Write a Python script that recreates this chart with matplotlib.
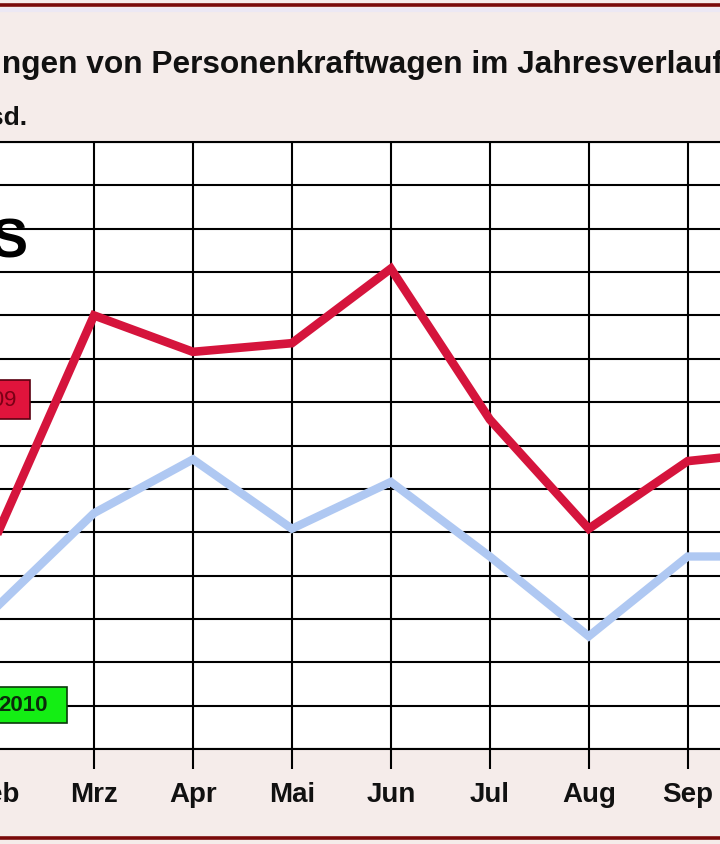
import matplotlib
matplotlib.use("Agg")
import matplotlib.pyplot as plt
from matplotlib.patches import Rectangle
from matplotlib.lines import Line2D

# ---------------- data ----------------
months = ["Jan", "Feb", "Mrz", "Apr", "Mai", "Jun", "Jul", "Aug", "Sep", "Okt", "Nov", "Dez"]
series_months = ["Feb", "Mrz", "Apr", "Mai", "Jun", "Jul", "Aug", "Sep", "Okt"]
values_2009 = [271, 400, 379, 384, 427, 340, 277, 316, 322]   # Tsd.
values_2010 = [231, 286, 317, 277, 304, 261, 215, 261, 261]   # Tsd.
y_ticks = list(range(150, 501, 25))
title = "Neuzulassungen von Personenkraftwagen im Jahresverlauf"
unit_label = "in Tsd."
label_2009 = "2009"
label_2010 = "2010"

# ---------------- styling ----------------
W, H = 720, 845
BG = "#F5ECEA"
RED = "#D5143C"
BLUE = "#AFC8F2"
FONT = "Liberation Sans"

def fx(x):
    return x / W

def fy(y):
    return 1 - y / H

fig = plt.figure(figsize=(W / 100, H / 100), dpi=100, facecolor=BG)

# axes geometry (left part of the original chart is cropped)
x_of = lambda m: 94 + (m - 3) * 98.95
L, R = x_of(0.5), x_of(12.5)
top_px, bot_px = 143, 750
ax = fig.add_axes([fx(L), fy(bot_px), fx(R) - fx(L), (bot_px - top_px) / H])
ax.set_facecolor("white")

xpos = {m: i + 1 for i, m in enumerate(months)}
xs = [xpos[m] for m in series_months]

ax.plot(xs, values_2010, color=BLUE, lw=6.0, solid_joinstyle="miter", zorder=3)
ax.plot(xs, values_2009, color=RED, lw=6.2, solid_joinstyle="miter", zorder=4)

ax.set_xlim(0.5, 12.5)
ax.set_ylim(y_ticks[0], y_ticks[-1])
ax.set_yticks(y_ticks)
ax.set_xticks(range(1, 13))
ax.set_xticklabels(months, fontsize=20, fontweight="bold", family=FONT, color="#111111")
ax.tick_params(axis="x", length=14.4, width=1.5, pad=9, color="black")
ax.tick_params(axis="y", left=False, labelleft=False)
ax.grid(True, color="black", lw=1.5)
ax.set_axisbelow(True)
for s in ["left", "right"]:
    ax.spines[s].set_visible(False)
for s in ["top", "bottom"]:
    ax.spines[s].set_color("black")
    ax.spines[s].set_linewidth(1.5)

# ---------------- title (cropped on the left) ----------------
renderer = fig.canvas.get_renderer()
tmp = fig.text(0, 0, "Neuzulassu", fontsize=22.8, fontweight="bold", family=FONT)
pre_w = tmp.get_window_extent(renderer).width
tmp.remove()
fig.text(fx(2 - pre_w), fy(73), title, fontsize=22.8, fontweight="bold",
         family=FONT, color="#111111", ha="left", va="baseline")
fig.text(fx(27), fy(125), unit_label, fontsize=19, fontweight="bold",
         family=FONT, color="#111111", ha="right", va="baseline")

# big black glyph (cropped)
fig.text(fx(27), fy(218), "S", fontsize=40, fontweight="bold", family=FONT,
         color="black", ha="right", va="top")

# ---------------- series label boxes ----------------
fig.add_artist(Rectangle((fx(-40), fy(420)), fx(70), 39 / H, transform=fig.transFigure,
                         facecolor="#E0143C", edgecolor="#5A0010", lw=1.2, zorder=5))
fig.text(fx(17), fy(401), label_2009, fontsize=16, family=FONT, color="#7A0015",
         ha="right", va="center", zorder=6)
fig.add_artist(Rectangle((fx(-40), fy(724)), fx(107), 36 / H, transform=fig.transFigure,
                         facecolor="#14EE14", edgecolor="#0A3A0A", lw=1.2, zorder=5))
fig.text(fx(48), fy(706), label_2010, fontsize=16, fontweight="bold", family=FONT,
         color="#0B2A0B", ha="right", va="center", zorder=6)

# ---------------- frame lines ----------------
fig.add_artist(Line2D([0, 1], [fy(6), fy(6)], transform=fig.transFigure, color="#7A0A0A", lw=2.6))
fig.add_artist(Line2D([0, 1], [fy(11), fy(11)], transform=fig.transFigure, color="#ECE8F4", lw=3))
fig.add_artist(Line2D([0, 1], [fy(839), fy(839)], transform=fig.transFigure, color="#7A0A0A", lw=2.6))

fig.savefig("out.png", dpi=100, facecolor=BG)
